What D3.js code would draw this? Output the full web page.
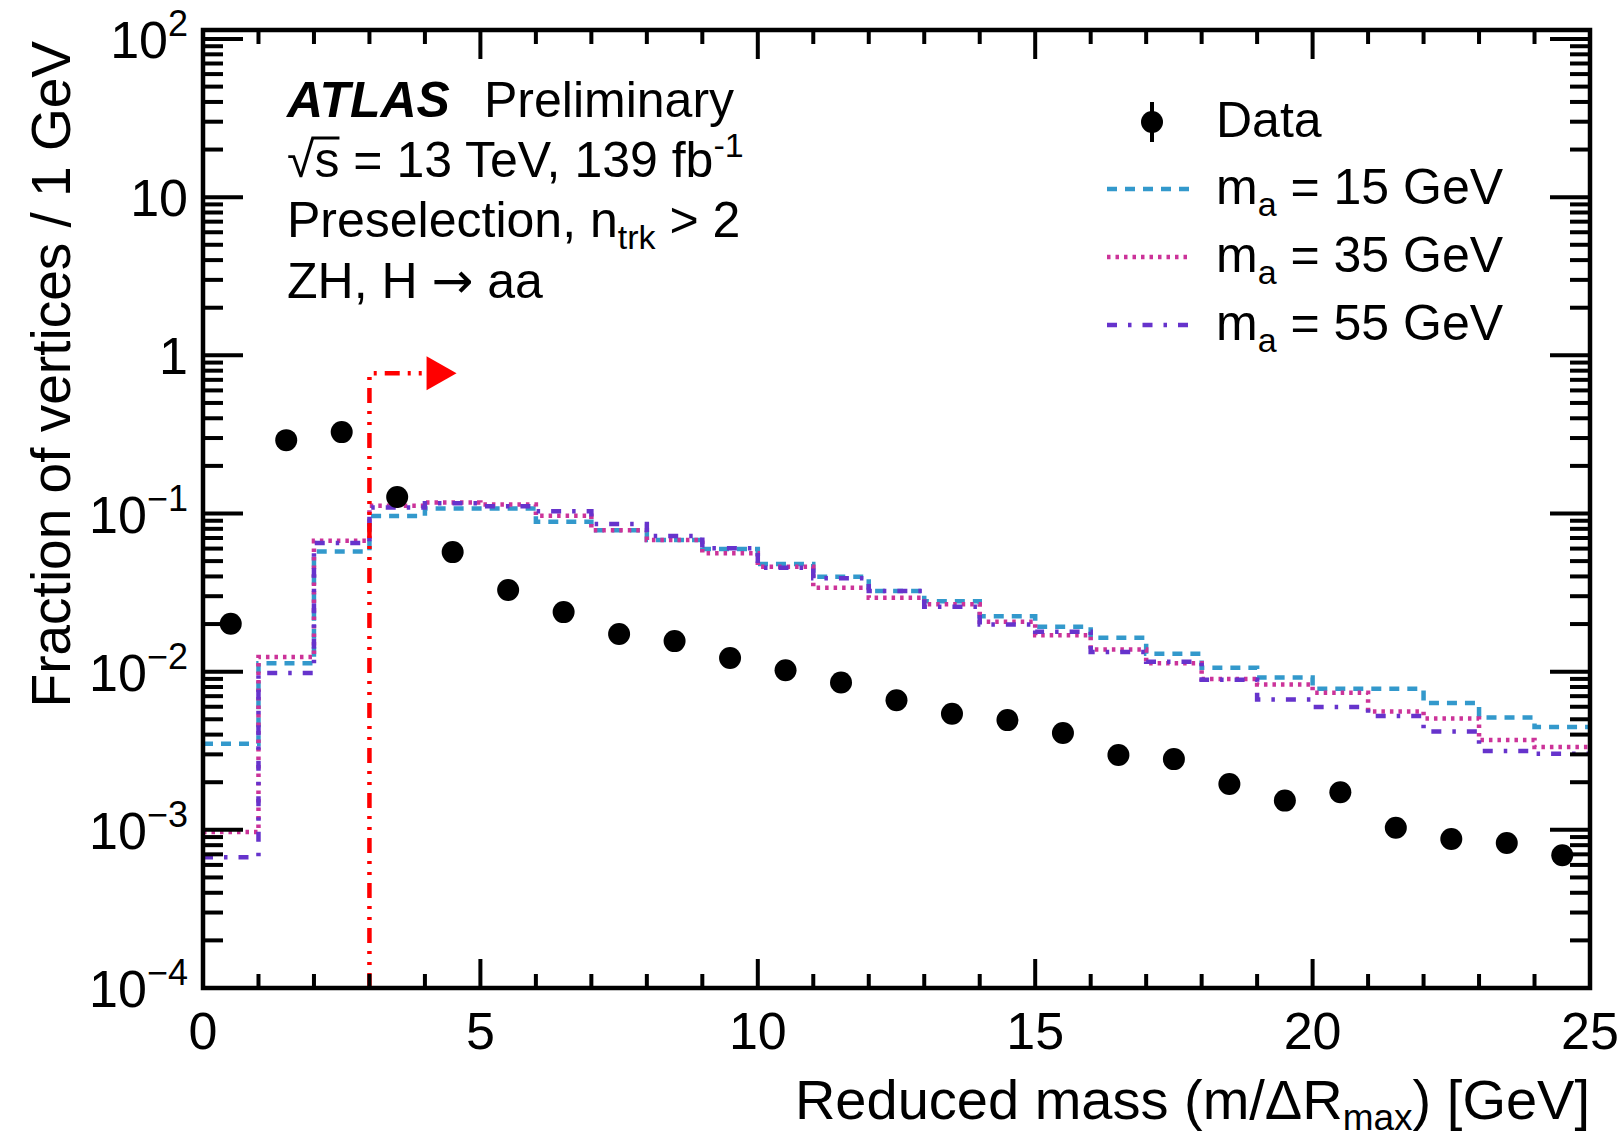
<!DOCTYPE html>
<html>
<head>
<meta charset="utf-8">
<script src="https://cdn.jsdelivr.net/npm/d3@7/dist/d3.min.js"></script>
<style>
  body { margin: 0; background: #fff; }
  text { font-family: "Liberation Sans", Arial, Helvetica, sans-serif; fill: #000; }
</style>
</head>
<body>
<div id="chart"></div>
<script>
// bin edges, 1 GeV wide
var binEdges = [0, 1, 2, 3, 4, 5, 6, 7, 8, 9, 10, 11, 12, 13, 14, 15, 16, 17, 18, 19, 20, 21, 22, 23, 24, 25];
var binCenters = [0.5, 1.5, 2.5, 3.5, 4.5, 5.5, 6.5, 7.5, 8.5, 9.5, 10.5, 11.5, 12.5, 13.5, 14.5, 15.5, 16.5, 17.5, 18.5, 19.5, 20.5, 21.5, 22.5, 23.5, 24.5];

// data points
var dataVals = [0.0201, 0.291, 0.327, 0.127, 0.057, 0.0328, 0.0238, 0.0173, 0.0156, 0.0122, 0.0102, 0.00853, 0.0066,
  0.00542, 0.00494, 0.00409, 0.00297, 0.0028, 0.00195, 0.00153, 0.00173, 0.00103, 0.000875, 0.000826, 0.00069];

// signal histograms
var ma15 = [0.0035, 0.0113, 0.0575, 0.0966, 0.1077, 0.1077, 0.0887, 0.0785, 0.068, 0.0596, 0.0479, 0.0398, 0.0324,
  0.0279, 0.0224, 0.0192, 0.0164, 0.013, 0.0106, 0.0092, 0.0078, 0.0078, 0.00633, 0.00513, 0.00447];
var ma35 = [0.00097, 0.0124, 0.0672, 0.112, 0.1175, 0.114, 0.0967, 0.0785, 0.068, 0.056, 0.046, 0.0339, 0.0293,
  0.0267, 0.0207, 0.017, 0.0138, 0.0113, 0.009, 0.0083, 0.00736, 0.0056, 0.00506, 0.0037, 0.00334];
var ma55 = [0.00067, 0.0098, 0.065, 0.109, 0.116, 0.111, 0.1035, 0.0857, 0.072, 0.0602, 0.0454, 0.0389, 0.0324,
  0.0257, 0.0199, 0.0179, 0.0133, 0.01155, 0.0089, 0.00668, 0.00597, 0.00524, 0.00419, 0.00315, 0.00303];

var seriesNames = ["15", "35", "55"];

// tick labels
var xTicks = [0, 5, 10, 15, 20, 25];
var yExponents = [-4, -3, -2, -1, 0, 1, 2];

// selection cut
var cutX = 3;
var cutY = 0.77;
var arrowStart = 4.03;
var arrowEnd = 4.57;

var W = 1624, H = 1138;
// plot frame (note: "top" is a reserved window property, so use other names)
var padL = 203, padR = 1590, padT = 30, padB = 988;

var svg = d3.select("#chart").append("svg").attr("width", W).attr("height", H);

var x = d3.scaleLinear().domain([0, 25]).range([padL, padR]);
var y = d3.scaleLog().domain([1e-4, 114]).range([padB, padT]);

// histograms
var styles = [
  { vals: ma15, color: "#3399cc", dash: "10,8" },
  { vals: ma35, color: "#cc3399", dash: "3.5,5" },
  { vals: ma55, color: "#6633cc", dash: "10,11,3.5,11" }
];

var step = d3.line()
  .x(function(d) { return x(d[0]); })
  .y(function(d) { return y(d[1]); })
  .curve(d3.curveStepAfter);

styles.forEach(function(s) {
  var pts = s.vals.map(function(v, i) { return [binEdges[i], v]; });
  pts.push([binEdges[binEdges.length - 1], s.vals[s.vals.length - 1]]);
  svg.append("path")
    .attr("d", step(pts))
    .attr("fill", "none")
    .attr("stroke", s.color)
    .attr("stroke-width", 4.5)
    .attr("stroke-dasharray", s.dash);
});

// cut line + arrow
var red = "#ff0000";
svg.append("path")
  .attr("d", "M" + x(cutX) + "," + y(1e-4) + "V" + y(cutY) + "H" + x(arrowStart))
  .attr("fill", "none")
  .attr("stroke", red)
  .attr("stroke-width", 4.5)
  .attr("stroke-dasharray", "15,8,3,8,3,8");
svg.append("path")
  .attr("d", "M" + x(arrowStart) + "," + (y(cutY) - 17) + "L" + x(arrowEnd) + "," + y(cutY) +
    "L" + x(arrowStart) + "," + (y(cutY) + 17) + "Z")
  .attr("fill", red);

// data points
svg.selectAll("circle.data")
  .data(dataVals)
  .enter().append("circle")
  .attr("class", "data")
  .attr("cx", function(d, i) { return x(binCenters[i]); })
  .attr("cy", function(d) { return y(d); })
  .attr("r", 11)
  .attr("fill", "#000");

// frame
svg.append("rect")
  .attr("x", padL).attr("y", padT)
  .attr("width", padR - padL).attr("height", padB - padT)
  .attr("fill", "none").attr("stroke", "#000").attr("stroke-width", 4.5);

// x ticks (bottom + top), minor every 1 GeV
var ticks = svg.append("g").attr("stroke", "#000").attr("stroke-width", 4);
binEdges.forEach(function(v) {
  if (v === 0 || v === 25) return;
  var len = (v % 5 === 0) ? 29 : 14;
  ticks.append("line").attr("x1", x(v)).attr("x2", x(v)).attr("y1", padB).attr("y2", padB - len);
  ticks.append("line").attr("x1", x(v)).attr("x2", x(v)).attr("y1", padT).attr("y2", padT + len);
});

// y ticks (left + right), log minors
yExponents.forEach(function(e) {
  var major = Math.pow(10, e);
  if (e > -4) {
    ticks.append("line").attr("x1", padL).attr("x2", padL + 40).attr("y1", y(major)).attr("y2", y(major));
    ticks.append("line").attr("x1", padR).attr("x2", padR - 40).attr("y1", y(major)).attr("y2", y(major));
  }
  for (var k = 2; k <= 9; k++) {
    var v = k * major;
    if (v > y.domain()[1]) break;
    ticks.append("line").attr("x1", padL).attr("x2", padL + 20).attr("y1", y(v)).attr("y2", y(v));
    ticks.append("line").attr("x1", padR).attr("x2", padR - 20).attr("y1", y(v)).attr("y2", y(v));
  }
});

// x tick labels
svg.selectAll("text.xl")
  .data(xTicks)
  .enter().append("text")
  .attr("class", "xl")
  .attr("x", function(d) { return x(d); })
  .attr("y", 1049)
  .attr("text-anchor", "middle")
  .attr("font-size", 52)
  .text(function(d) { return d; });

// y tick labels
yExponents.forEach(function(e) {
  var t = svg.append("text")
    .attr("x", 188)
    .attr("y", y(Math.pow(10, e)) + 19)
    .attr("text-anchor", "end")
    .attr("font-size", 52);
  if (e === 0) {
    t.text("1");
  } else if (e === 1) {
    t.text("10");
  } else {
    t.append("tspan").text("10");
    t.append("tspan").attr("dy", -22).attr("font-size", 36)
      .text(e < 0 ? "\u2212" + (-e) : e);
  }
});

// axis titles
var xt = svg.append("text")
  .attr("x", padR).attr("y", 1119)
  .attr("text-anchor", "end")
  .attr("font-size", 56);
xt.append("tspan").text("Reduced mass (m/\u0394R");
xt.append("tspan").attr("dy", 11).attr("font-size", 37).text("max");
xt.append("tspan").attr("dy", -11).text(") [GeV]");

svg.append("text")
  .attr("transform", "translate(70,41) rotate(-90)")
  .attr("text-anchor", "end")
  .attr("font-size", 55)
  .text("Fraction of vertices / 1 GeV");

// ATLAS label
var lab = svg.append("g").attr("font-size", 50);
lab.append("text").attr("x", 287).attr("y", 117)
  .attr("font-weight", "bold").attr("font-style", "italic").text("ATLAS");
lab.append("text").attr("x", 484).attr("y", 117).text("Preliminary");

var l2 = lab.append("text").attr("x", 287).attr("y", 177);
l2.append("tspan").text("\u221A");
var sSpan = l2.append("tspan").text("s");
l2.append("tspan").text(" = 13 TeV, 139 fb");
l2.append("tspan").attr("dy", -20).attr("font-size", 34).text("-1");
// bar over the s of the square root
var sx = l2.node().getStartPositionOfChar(1).x;
var sw = sSpan.node().getComputedTextLength();
lab.append("line")
  .attr("x1", sx - 3).attr("x2", sx + sw)
  .attr("y1", 177 - 39).attr("y2", 177 - 39)
  .attr("stroke", "#000").attr("stroke-width", 3);

var l3 = lab.append("text").attr("x", 287).attr("y", 237);
l3.append("tspan").text("Preselection, n");
l3.append("tspan").attr("dy", 12).attr("font-size", 34).text("trk");
l3.append("tspan").attr("dy", -12).text(" > 2");

var l4 = lab.append("text").attr("x", 287).attr("y", 298);
l4.append("tspan").text("ZH, H ");
l4.append("tspan").style("font-family", "'DejaVu Sans'").text("\u2192");
l4.append("tspan").text(" aa");

// legend
var leg = svg.append("g").attr("font-size", 50);
leg.append("line").attr("x1", 1152).attr("x2", 1152).attr("y1", 102).attr("y2", 142)
  .attr("stroke", "#000").attr("stroke-width", 4);
leg.append("circle").attr("cx", 1152).attr("cy", 122).attr("r", 11).attr("fill", "#000");
leg.append("text").attr("x", 1216).attr("y", 137).text("Data");

styles.forEach(function(s, i) {
  var ly = 189 + i * 68;
  leg.append("line").attr("x1", 1107).attr("x2", 1190).attr("y1", ly).attr("y2", ly)
    .attr("stroke", s.color).attr("stroke-width", 4.5).attr("stroke-dasharray", s.dash);
  var t = leg.append("text").attr("x", 1216).attr("y", ly + 15);
  t.append("tspan").text("m");
  t.append("tspan").attr("dy", 12).attr("font-size", 34).text("a");
  t.append("tspan").attr("dy", -12).text(" = " + seriesNames[i] + " GeV");
});
</script>
</body>
</html>
